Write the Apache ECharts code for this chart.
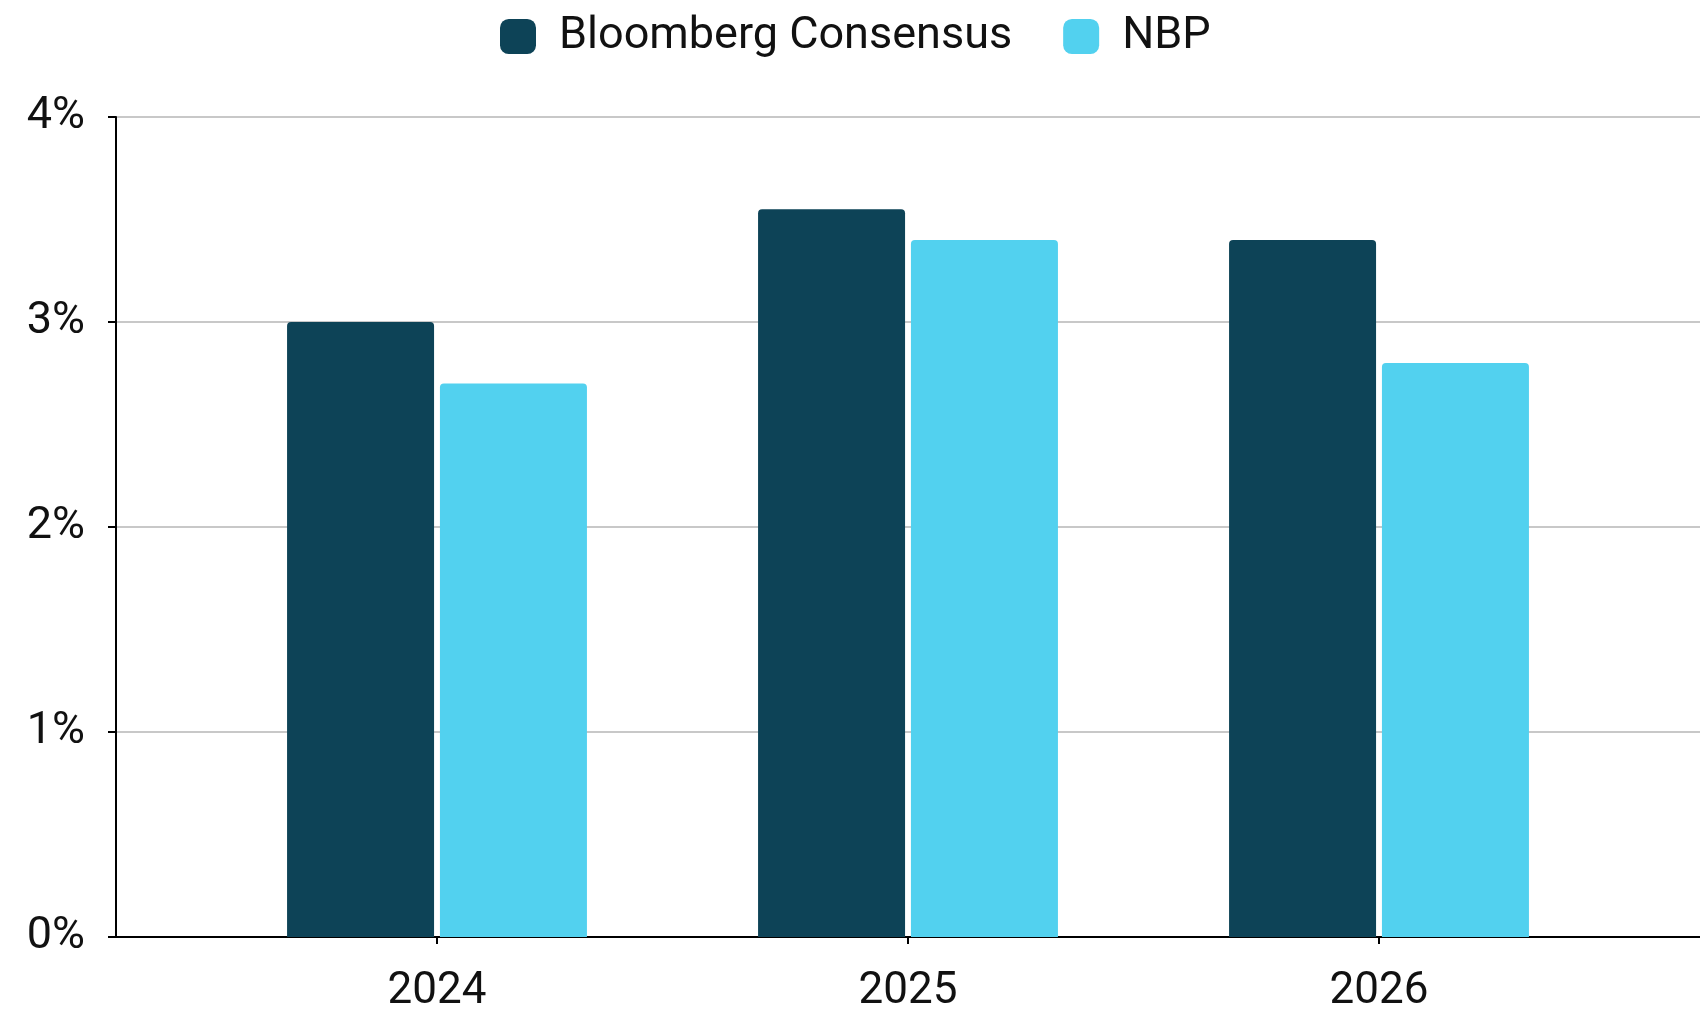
<!DOCTYPE html>
<html>
<head>
<meta charset="utf-8">
<script src="https://cdn.jsdelivr.net/npm/echarts@6/dist/echarts.min.js"></script>
<style>
  html, body { margin: 0; padding: 0; background: #fff; }
  #chart { width: 1700px; height: 1011px; }
</style>
</head>
<body>
<div id="chart"></div>
<script>
// GDP growth forecasts, %
const years = ['2024', '2025', '2026'];
const bloomberg = [3.0, 3.55, 3.4];
const nbp = [2.7, 3.4, 2.8];
const yTicks = [0, 1, 2, 3, 4];

const FONT = 'Roboto';
const DARK = '#0d4357';
const LIGHT = '#52d1ef';

const chart = echarts.init(document.getElementById('chart'));

chart.setOption({
  animation: false,
  textStyle: { fontFamily: FONT },
  legend: {
    top: 9,
    left: 495,
    itemWidth: 36,
    itemHeight: 35,
    itemGap: 51,
    icon: 'roundRect',
    textStyle: { fontFamily: FONT, fontSize: 45, color: '#111', padding: [0, 0, 0, 18] },
    data: ['Bloomberg Consensus', 'NBP']
  },
  grid: [
    // frame: value axis, gridlines and the bottom axis line
    { left: 116, right: 0, top: 117, bottom: 74, containLabel: false, outerBoundsMode: 'none' },
    // bars
    { left: 201.5, width: 1413, top: 117, bottom: 74, containLabel: false, outerBoundsMode: 'none' }
  ],
  xAxis: [
    {
      gridIndex: 0, type: 'value', min: 0, max: 1,
      axisLine: { show: true, onZero: false, lineStyle: { color: '#000', width: 2 } },
      axisTick: { show: false }, axisLabel: { show: false }, splitLine: { show: false }
    },
    {
      gridIndex: 1, type: 'category', data: years,
      axisLine: { show: false },
      axisTick: { show: true, alignWithLabel: true, length: 7, lineStyle: { color: '#000', width: 2 } },
      axisLabel: { fontFamily: FONT, fontSize: 44, color: '#111', margin: 33 }
    }
  ],
  yAxis: [
    {
      gridIndex: 0, type: 'value', min: yTicks[0], max: yTicks[yTicks.length - 1], interval: 1,
      axisLine: { show: true, lineStyle: { color: '#000', width: 2 } },
      axisTick: { show: true, length: 8, lineStyle: { color: '#000', width: 2 } },
      axisLabel: { fontFamily: FONT, fontSize: 45, color: '#111', margin: 31, formatter: '{value}%' },
      splitLine: { show: true, lineStyle: { color: '#c8c8c8', width: 2 } }
    },
    {
      gridIndex: 1, type: 'value', min: yTicks[0], max: yTicks[yTicks.length - 1], interval: 1,
      show: false
    }
  ],
  series: [
    {
      name: 'Bloomberg Consensus', type: 'bar', xAxisIndex: 1, yAxisIndex: 1,
      data: bloomberg, barWidth: 147, barGap: '4%',
      itemStyle: { color: DARK, borderRadius: [4, 4, 0, 0] }
    },
    {
      name: 'NBP', type: 'bar', xAxisIndex: 1, yAxisIndex: 1,
      data: nbp, barWidth: 147, barGap: '4%',
      itemStyle: { color: LIGHT, borderRadius: [4, 4, 0, 0] }
    }
  ]
});
</script>
</body>
</html>
